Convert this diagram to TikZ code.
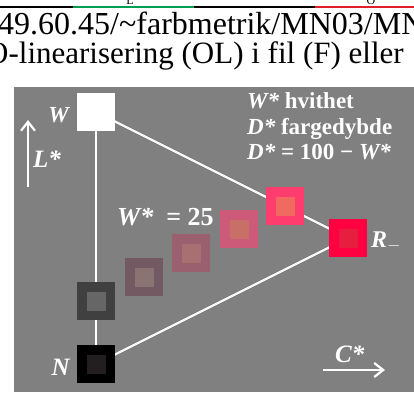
\documentclass[tikz,border=0pt]{standalone}
\usepackage{fontspec}
\setmainfont{Liberation Serif}
\usetikzlibrary{arrows.meta}
\definecolor{bgray}{RGB}{128,128,128}
\definecolor{topgreen}{RGB}{0,160,80}
\definecolor{topred}{RGB}{228,30,40}
\definecolor{rOut}{RGB}{255,0,64}
\definecolor{rIn}{RGB}{230,30,64}
\definecolor{fourOut}{RGB}{255,60,110}
\definecolor{fourIn}{RGB}{240,106,96}
\definecolor{threeOut}{RGB}{204,90,120}
\definecolor{threeIn}{RGB}{200,112,104}
\definecolor{twoOut}{RGB}{155,96,112}
\definecolor{twoIn}{RGB}{168,112,112}
\definecolor{oneOut}{RGB}{115,90,98}
\definecolor{oneIn}{RGB}{138,115,115}
\definecolor{gOut}{RGB}{64,64,64}
\definecolor{gIn}{RGB}{102,102,102}
\definecolor{nIn}{RGB}{35,31,32}
\pgfdeclarelayer{back}
\pgfdeclarelayer{lines}
\pgfsetlayers{back,lines,main}
\tikzset{
  sq/.style={minimum size=38pt, inner sep=0pt, outer sep=0pt, fill=#1},
  isq/.style={minimum size=19pt, inner sep=0pt, outer sep=0pt, fill=#1},
  tri/.style={draw=white, line width=2.2pt},
  arr/.style={draw=white, line width=2.2pt, -{Straight Barb[length=9pt,width=14pt]}},
  lbl/.style={text=white, inner sep=0pt, font=\fontsize{#1}{#1}\selectfont\bfseries\itshape},
  lbl/.default=23,
  ttl/.style={text=black, inner sep=0pt, font=\fontsize{#1}{#1}\selectfont},
  frag/.style={text=black, inner sep=0pt, font=\fontsize{12}{14}\selectfont}
}
\begin{document}
\begin{tikzpicture}[x=1pt,y=-1pt]
\useasboundingbox (0,0) rectangle (414,392);
\begin{pgfonlayer}{back}
\fill[white] (0,0) rectangle (414,392);
\fill[bgray] (14,87) rectangle (414,392);
\end{pgfonlayer}
% top coloured rule and cut-off letters
\draw[line width=2.5pt, black] (0,7) -- (73,7);
\draw[line width=2.5pt, topgreen] (73,7) -- (194,7);
\draw[line width=2.5pt, black] (194,7) -- (315,7);
\draw[line width=2.5pt, topred] (315,7) -- (414,7);
\node[frag, anchor=base] (fragL) at (130,4.5) {L};
\node[frag, anchor=base] (fragO) at (371,4.5) {O};
% title lines
\node[ttl=32, anchor=base west] (t1) at (-2,34) {49.60.45/\textasciitilde farbmetrik/MN03/MN};
\node[ttl=31, anchor=base west] (t2) at (-14,63) {O-linearisering (OL) i fil (F) eller};
% squares
\node[sq=white] (w) at (96,112) {};
\node[sq=gOut] (g) at (96,301) {};
\node[isq=gIn] (gi) at (g) {};
\node[sq=black] (n) at (96,364) {};
\node[isq=nIn] (ni) at (n) {};
\node[sq=oneOut] (s1) at (144,277) {};
\node[isq=oneIn] (s1i) at (s1) {};
\node[sq=twoOut] (s2) at (191,253) {};
\node[isq=twoIn] (s2i) at (s2) {};
\node[sq=threeOut] (s3) at (239,229) {};
\node[isq=threeIn] (s3i) at (s3) {};
\node[sq=fourOut] (s4) at (285,206) {};
\node[isq=fourIn] (s4i) at (s4) {};
\node[sq=rOut] (r) at (348,238) {};
\node[isq=rIn] (ri) at (r) {};
% triangle lines (under the squares)
\begin{pgfonlayer}{lines}
\draw[tri] (w.center) -- (r.center);
\draw[tri] (n.center) -- (r.center);
\draw[tri] (w.center) -- (n.center);
\end{pgfonlayer}
% axis arrows
\coordinate (la1) at (28,187);
\coordinate (la2) at (28,120);
\draw[arr] (la1) -- (la2);
\coordinate (ca1) at (323,370);
\coordinate (ca2) at (385,370);
\draw[arr] (ca1) -- (ca2);
% labels
\node[lbl=23, anchor=base east] (wl) at (69,122) {W};
\node[lbl=25, anchor=base west] (ll) at (33,167) {L*};
\node[lbl=25, anchor=base east] (nl) at (70,375) {N};
\node[lbl=24, anchor=base west] (rl) at (371,247) {R$_{-}$};
\node[lbl=25, anchor=base west] (cl) at (335,362) {C*};
\node[lbl=26, anchor=base west] (w25) at (117,225) {W*\ \ {\upshape= 25}};
\node[lbl=23, anchor=base west] (k1) at (247,108) {W* {\upshape hvithet}};
\node[lbl=23, anchor=base west] (k2) at (247,134) {D* {\upshape fargedybde}};
\node[lbl=23, anchor=base west] (k3) at (247,159) {D* {\upshape = 100 − }W*};
\end{tikzpicture}
\end{document}
